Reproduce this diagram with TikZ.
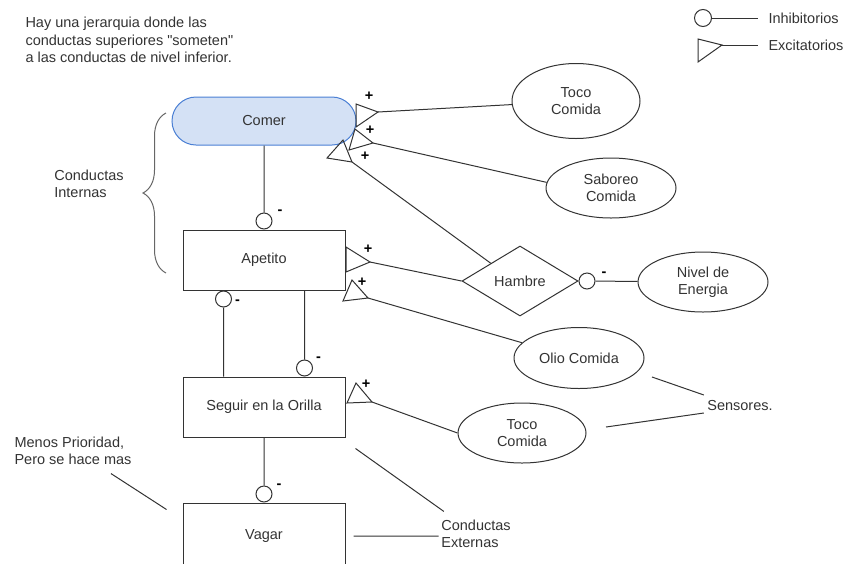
\documentclass[tikz,border=0pt]{standalone}
\usepackage{fontspec}
\setmainfont{Liberation Sans}[Ligatures=TeXOff]
\usetikzlibrary{
    decorations.pathreplacing,
    shapes,
    calc,
    positioning
}
\definecolor{comerfill}{HTML}{D4E1F5}
\definecolor{comerline}{HTML}{4A7FD4}
\definecolor{ink}{HTML}{333333}
\tikzset{conducta/.style={rectangle, draw=ink, minimum width=162pt, minimum height=60pt}}
\tikzset{sensor/.style={ellipse, draw=ink, minimum width=130pt, minimum height=60pt, inner sep=0pt, align=center}}
\tikzset{inh/.style={circle, draw=ink, minimum size=16pt, inner sep=0pt}}
\tikzset{exc/.style={draw=ink, line join=miter}}
\tikzset{nota/.style={inner sep=0pt, align=left}}
\tikzset{signo/.style={inner sep=0pt, font=\fontsize{14.5}{17.5}\selectfont\bfseries, text=black}}

\begin{document}
\begin{tikzpicture}[x=1pt, y=-1pt, line width=1pt, color=ink, font=\fontsize{14.5}{17.5}\selectfont]
                        \useasboundingbox (0,0) rectangle (843,563);
                        \node[conducta, draw=comerline, fill=comerfill, rounded corners=24pt, minimum width=184pt, minimum height=48pt] (comer) at (264,121) {Comer};
                        \node[conducta] (apetito) at (264,260) {Apetito};
                        \node[conducta] (seguir) at (264,407) {Seguir en la Orilla};
                        \node[conducta, minimum height=66pt] (vagar) at (264,536) {Vagar};
                        \node[sensor, minimum width=128pt, minimum height=75pt] (toco) at (576,101) {Toco\\Comida};
                        \node[sensor] (saboreo) at (611,188) {Saboreo\\Comida};
                        \node[diamond, draw=ink, aspect=1.66, minimum width=116pt, minimum height=70pt, inner sep=0pt] (hambre) at (520,281) {Hambre};
                        \node[sensor] (nivel) at (703,282) {Nivel de\\Energia};
                        \node[sensor, minimum height=61pt] (olio) at (579,358) {Olio Comida};
                        \node[sensor, minimum width=128pt] (toco2) at (522,433) {Toco\\Comida};
                        \node[inh, above=0pt of apetito] (c1) {};
                        \node[inh, anchor=north] (c2) at ($(apetito.south west) + (41, 0)$) {};
                        \node[inh, anchor=south] (c3) at ($(seguir.north west) + (122, 0)$) {};
                        \node[inh, above=0pt of vagar] (c4) {};
                        \node[inh, right=0pt of hambre] (c5) {};
                        \draw
                        (comer) -- (c1)
                        (c2) -- (c2 |- seguir.north)
                        (c3 |- apetito.south) -- (c3)
                        (seguir) -- (c4)
                        (c5) -- (nivel);
                        \node[signo] at ($(c1) + (16, -9)$) {-};
                        \node[signo] at ($(c2) + (14, 3)$) {-};
                        \node[signo] at ($(c3) + (14, -9)$) {-};
                        \node[signo] at ($(c4) + (15, -8)$) {-};
                        \node[signo] at ($(c5) + (17, -7)$) {-};
                        \draw[exc] (356,104) -- (356,127) -- (378,112) coordinate (e1) -- cycle;
                        \draw[exc] (355,129) -- (349,150) -- (373,143) coordinate (e2) -- cycle;
                        \draw[exc] (343,140) -- (327,158) -- (352,162) coordinate (e3) -- cycle;
                        \draw[exc] (346,247) -- (346,272) -- (370,262) coordinate (e4) -- cycle;
                        \draw[exc] (343,301) -- (352,280) -- (368,298) coordinate (e5) -- cycle;
                        \draw[exc] (347,403) -- (356,383) -- (372,402) coordinate (e6) -- cycle;
                        \draw
                        (e1) -- (toco)
                        (e2) -- (saboreo.175)
                        (e3) -- (hambre.north west)
                        (e4) -- (hambre.west)
                        (e5) -- (olio.165)
                        (e6) -- (toco2.west);
                        \node[signo] at ($(e1) + (-9, -16)$) {+};
                        \node[signo] at ($(e2) + (-3, -13)$) {+};
                        \node[signo] at ($(e3) + (13, -6)$) {+};
                        \node[signo] at ($(e4) + (-2, -13)$) {+};
                        \node[signo] at ($(e5) + (-6, -16)$) {+};
                        \node[signo] at ($(e6) + (-6, -18)$) {+};
                        % leyenda
                        \node[inh, minimum size=17pt] (lc) at (703,18) {};
                        \node[nota, anchor=west] (inhib) at (768,18) {Inhibitorios};
                        \draw (lc) -- ($(inhib.west) + (-10, 0)$);
                        \draw[exc] (698,39) -- (698,62) -- (722,45) coordinate (le) -- cycle;
                        \node[nota, anchor=west] (excit) at (768,45) {Excitatorios};
                        \draw (le) -- ($(excit.west) + (-10, 0)$);
                        % notas
                        \node[nota, anchor=west] (jerarquia) at (25,40) {Hay una jerarquia donde las\\conductas superiores "someten"\\a las conductas de nivel inferior.};
                        \node[nota] (internas) at (89,184) {Conductas\\Internas};
                        \draw[black!60, decorate, decoration={brace, amplitude=23pt}] (166,273) -- (166,113);
                        \node[nota] (menos) at (73,451) {Menos Prioridad,\\Pero se hace mas};
                        \draw ($(menos.south) + (38, 8)$) -- ($(vagar.north west) + (-16, 7)$);
                        \node[nota] (externas) at (476,534) {Conductas\\Externas};
                        \draw
                        ($(seguir.south east) + (10, 11)$) -- ($(externas.north west) + (3, -8)$)
                        ($(vagar.east) + (8, 0)$) -- ++(85,0);
                        \node[nota] (sensores) at (740,405) {Sensores.};
                        \draw
                        ($(olio) + (73, 19)$) -- ($(sensores.west) + (-3, -10)$)
                        ($(toco2) + (84, -6)$) -- ($(sensores.west) + (-3, 8)$);
                    \end{tikzpicture}
\end{document}
